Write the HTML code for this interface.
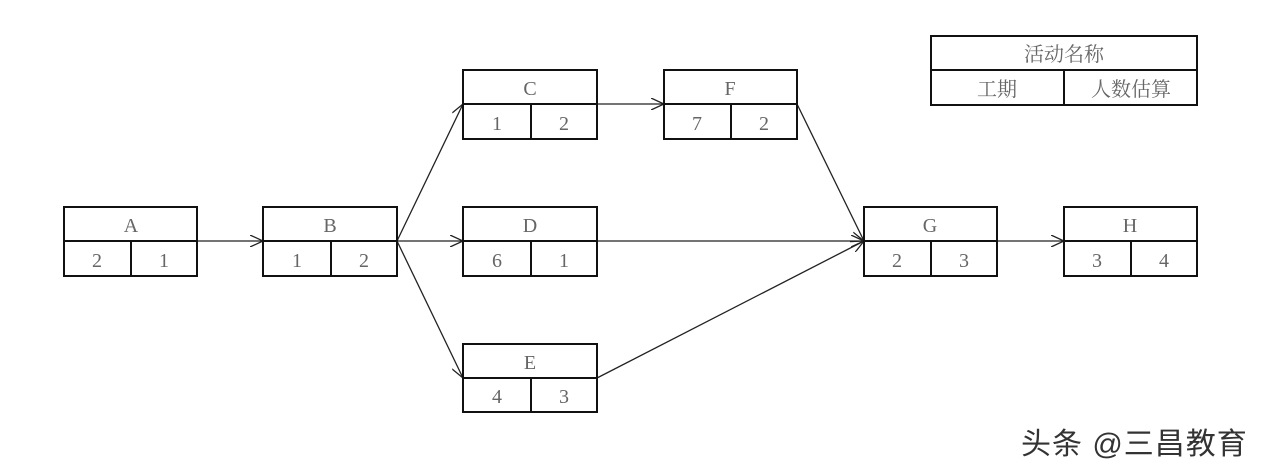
<!DOCTYPE html>
<html><head><meta charset="utf-8"><style>
html,body{margin:0;padding:0;background:#fff;}
svg{display:block;}
text{font-family:"Liberation Serif","Noto Serif CJK SC",serif;fill:#666;}
</style></head><body>
<svg width="1270" height="474" viewBox="0 0 1270 474">
<defs><marker id="a" markerWidth="14" markerHeight="12" refX="13" refY="6" orient="auto" markerUnits="userSpaceOnUse"><path d="M0,0 L13,6 L0,12" fill="none" stroke="#222" stroke-width="1.3"/></marker></defs>
<g stroke="#222" stroke-width="1.3" fill="none" marker-end="url(#a)">
<line x1="197" y1="241" x2="263" y2="241"/>
<line x1="397" y1="241" x2="463" y2="104"/>
<line x1="397" y1="241" x2="463" y2="241"/>
<line x1="397" y1="241" x2="463" y2="378"/>
<line x1="597" y1="104" x2="664" y2="104"/>
<line x1="797" y1="104" x2="864" y2="241"/>
<line x1="597" y1="241" x2="864" y2="241"/>
<line x1="597" y1="378" x2="864" y2="241"/>
<line x1="997" y1="241" x2="1064" y2="241"/>
</g>
<g stroke="#111" stroke-width="2" fill="none">
<rect x="64" y="207" width="133" height="69"/><line x1="64" y1="241" x2="197" y2="241"/><line x1="131" y1="241" x2="131" y2="276"/>
<rect x="263" y="207" width="134" height="69"/><line x1="263" y1="241" x2="397" y2="241"/><line x1="331" y1="241" x2="331" y2="276"/>
<rect x="463" y="70" width="134" height="69"/><line x1="463" y1="104" x2="597" y2="104"/><line x1="531" y1="104" x2="531" y2="139"/>
<rect x="664" y="70" width="133" height="69"/><line x1="664" y1="104" x2="797" y2="104"/><line x1="731" y1="104" x2="731" y2="139"/>
<rect x="463" y="207" width="134" height="69"/><line x1="463" y1="241" x2="597" y2="241"/><line x1="531" y1="241" x2="531" y2="276"/>
<rect x="463" y="344" width="134" height="68"/><line x1="463" y1="378" x2="597" y2="378"/><line x1="531" y1="378" x2="531" y2="412"/>
<rect x="864" y="207" width="133" height="69"/><line x1="864" y1="241" x2="997" y2="241"/><line x1="931" y1="241" x2="931" y2="276"/>
<rect x="1064" y="207" width="133" height="69"/><line x1="1064" y1="241" x2="1197" y2="241"/><line x1="1131" y1="241" x2="1131" y2="276"/>
<rect x="931" y="36" width="266" height="69"/><line x1="931" y1="70" x2="1197" y2="70"/><line x1="1064" y1="70" x2="1064" y2="105"/>
</g>
<g font-size="20" text-anchor="middle">
<text x="131" y="232">A</text><text x="97" y="267">2</text><text x="164" y="267">1</text>
<text x="330" y="232">B</text><text x="297" y="267">1</text><text x="364" y="267">2</text>
<text x="530" y="95">C</text><text x="497" y="130">1</text><text x="564" y="130">2</text>
<text x="730" y="95">F</text><text x="697" y="130">7</text><text x="764" y="130">2</text>
<text x="530" y="232">D</text><text x="497" y="267">6</text><text x="564" y="267">1</text>
<text x="530" y="369">E</text><text x="497" y="403">4</text><text x="564" y="403">3</text>
<text x="930" y="232">G</text><text x="897" y="267">2</text><text x="964" y="267">3</text>
<text x="1130" y="232">H</text><text x="1097" y="267">3</text><text x="1164" y="267">4</text>
<text x="1064" y="61">活动名称</text><text x="997" y="96">工期</text><text x="1131" y="96">人数估算</text>
</g>
<text x="1021" y="454" font-size="30" letter-spacing="1" style="font-family:'Liberation Sans','Noto Sans CJK SC',sans-serif;fill:#333">头条 @三昌教育</text>
</svg>
</body></html>
